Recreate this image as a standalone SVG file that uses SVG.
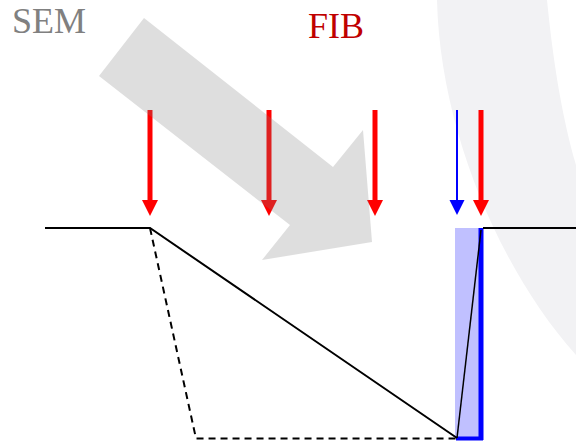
<svg xmlns="http://www.w3.org/2000/svg" width="576" height="444" viewBox="0 0 576 444">
  <style>
    .lbl { font-family: "Liberation Serif", "Times New Roman", serif; font-size: 36px; }
    .surf { fill: none; stroke: #000; stroke-width: 2; }
    .dash { fill: none; stroke: #000; stroke-width: 2; stroke-dasharray: 7 5; }
    .red { stroke: #ff0000; stroke-width: 5; }
    .redhead { fill: #ff0000; }
  </style>
  <defs>
    <polygon id="rhead" points="-8,0 8,0 0,16" class="redhead"/>
  </defs>
  <rect width="576" height="444" fill="#ffffff"/>
  <g id="background-band">
    <path d="M437,0 C440,130 500,270 576,355 L576,165 C560,110 552,50 547,0 Z" fill="#f2f2f4"/>
  </g>
  <g id="sem-label">
    <text class="lbl" x="12" y="33" fill="#808080">SEM</text>
  </g>
  <g id="fib-label">
    <text class="lbl" x="308" y="38" fill="#c00000">FIB</text>
  </g>
  <g id="trench">
    <rect x="455" y="228" width="26" height="210" fill="#c0c0ff"/>
    <line x1="481" y1="228" x2="481" y2="440" stroke="#0000ff" stroke-width="5"/>
    <line x1="456" y1="438.5" x2="483" y2="438.5" stroke="#0000ff" stroke-width="4"/>
    <line x1="457" y1="438" x2="481" y2="230" stroke="#000" stroke-width="1.5"/>
  </g>
  <g id="surface">
    <polyline class="surf" points="45,228 150,228 457,438"/>
    <line x1="483" y1="228" x2="576" y2="228" stroke="#000" stroke-width="2"/>
    <polyline class="dash" points="150,228 196,438.5 457,438.5"/>
  </g>
  <g id="connectors">
    <g id="fib-arrow-1">
      <line class="red" x1="150" y1="110" x2="150" y2="202"/>
      <use href="#rhead" x="150" y="200"/>
    </g>
    <g id="fib-arrow-2">
      <line class="red" x1="269" y1="110" x2="269" y2="202"/>
      <use href="#rhead" x="269" y="200"/>
    </g>
    <g id="fib-arrow-3">
      <line class="red" x1="375" y1="110" x2="375" y2="202"/>
      <use href="#rhead" x="375" y="200"/>
    </g>
    <g id="sem-arrow-small">
      <line x1="457" y1="110" x2="457" y2="202" stroke="#0000ff" stroke-width="2"/>
      <polygon points="449.5,200 464.5,200 457,215" fill="#0000ff"/>
    </g>
    <g id="fib-arrow-4">
      <line class="red" x1="481" y1="110" x2="481" y2="202"/>
      <use href="#rhead" x="481" y="200"/>
    </g>
  </g>
  <g id="sem-beam">
    <polygon points="144,18 333,167 363,130 372,242 262,260 290,225 99,76" fill="#808080" fill-opacity="0.26"/>
  </g>
</svg>
